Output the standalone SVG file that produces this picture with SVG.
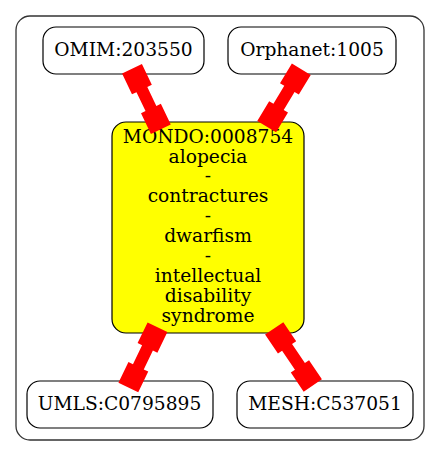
<svg xmlns="http://www.w3.org/2000/svg" width="440" height="456" viewBox="0 0 440 456">
<style>
.node rect{fill:#ffffff;stroke:#000000;stroke-width:1.2}
#mondo rect{fill:#ffff00}
text{font-family:"DejaVu Serif","Liberation Serif",serif;font-size:18.67px;fill:#000000;text-anchor:middle}
.edge{fill:#ff0000;stroke:none}
</style>
<defs>
<polygon id="dbox67" points="0,-11 23,-11 23,-6 44,-6 44,-11 67,-11 67,11 44,11 44,6 23,6 23,11 0,11"/>
<polygon id="dbox69" points="0,-11 23,-11 23,-6 46,-6 46,-11 69,-11 69,11 46,11 46,6 23,6 23,11 0,11"/>
</defs>
<rect x="0" y="0" width="440" height="456" fill="#ffffff"/>
<g id="cluster">
<rect x="16" y="16" width="408" height="424" rx="14" ry="14" fill="none" stroke="#333333" stroke-width="1.3"/>
</g>
<g id="omim" class="node">
<rect x="43" y="27" width="161" height="47" rx="13" ry="13"/>
<text x="123.5" y="56">OMIM:203550</text>
</g>
<g id="orphanet" class="node">
<rect x="228" y="27" width="168" height="47" rx="13" ry="13"/>
<text x="312" y="56">Orphanet:1005</text>
</g>
<g id="mondo" class="node">
<rect x="112" y="122" width="192" height="211" rx="14" ry="14"/>
<text x="208" y="142.5">MONDO:0008754</text>
<text x="208" y="162.5">alopecia</text>
<text x="208" y="182.4">-</text>
<text x="208" y="202.4">contractures</text>
<text x="208" y="222.3">-</text>
<text x="208" y="242.2">dwarfism</text>
<text x="208" y="262.2">-</text>
<text x="208" y="282.2">intellectual</text>
<text x="208" y="302.1">disability</text>
<text x="208" y="322">syndrome</text>
</g>
<g id="umls" class="node">
<rect x="27" y="381" width="186" height="47" rx="13" ry="13"/>
<text x="119.5" y="410">UMLS:C0795895</text>
</g>
<g id="mesh" class="node">
<rect x="237" y="381" width="176" height="47" rx="13" ry="13"/>
<text x="325" y="410">MESH:C537051</text>
</g>
<g id="connectors">
<use href="#dbox67" class="edge" transform="translate(132,68.8) rotate(64.5)"/>
<use href="#dbox67" class="edge" transform="translate(301.3,69.2) rotate(121.1)"/>
<use href="#dbox67" class="edge" transform="translate(157.5,327.2) rotate(115.8)"/>
<use href="#dbox69" class="edge" transform="translate(274.2,328.3) rotate(56)"/>
</g>
</svg>
